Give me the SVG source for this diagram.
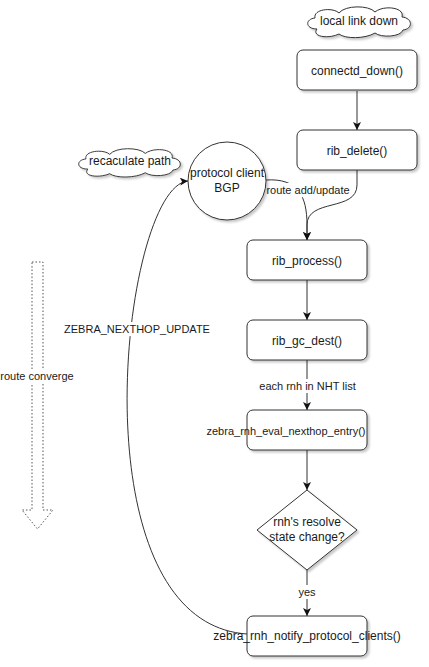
<svg xmlns="http://www.w3.org/2000/svg" width="429" height="667" viewBox="0 0 429 667">
<style>
  .node { fill: #ffffff; stroke: #333333; stroke-width: 1; }
  .t12 { font-family: "Liberation Sans", Arial, sans-serif; font-size: 12px; fill: #1a1a1a; text-anchor: middle; }
  .t11 { font-family: "Liberation Sans", Arial, sans-serif; font-size: 11px; fill: #1a1a1a; text-anchor: middle; }
  .edge { fill: none; stroke: #333333; stroke-width: 1; }
  .lblbg { fill: #ffffff; }
  .sh { filter: url(#shadow); }
</style>
<defs>
  <filter id="shadow" x="-20%" y="-20%" width="150%" height="150%">
    <feDropShadow dx="2" dy="2" stdDeviation="1.2" flood-color="#000000" flood-opacity="0.22"/>
  </filter>
  <marker id="arr" viewBox="0 0 8 8" refX="8" refY="4" markerWidth="8" markerHeight="8" orient="auto" markerUnits="userSpaceOnUse">
    <path d="M0,0 L8,4 L0,8 L2,4 Z" fill="#111111"/>
  </marker>
  <path id="cloud" d="M12,24 C0,24 0,14 10,13 C8,4 28,2 34,8 C40,0 64,0 70,7 C78,0 100,2 97,12 C108,13 108,24 98,25 C96,32 76,33 70,28 C60,34 40,34 34,29 C24,34 6,32 12,24 Z"/>
</defs>
<rect width="429" height="667" fill="#ffffff"/>

<g id="connectors">
  <path class="edge" d="M357,91 L357,130" marker-end="url(#arr)"/>
  <path class="edge" d="M357,170 L357,185 C357,212 307,198 307,225 L307,240" marker-end="url(#arr)"/>
  <path class="edge" d="M266,180 C298,178 307,196 307,225 L307,240" marker-end="url(#arr)"/>
  <path class="edge" d="M307,280 L307,320" marker-end="url(#arr)"/>
  <path class="edge" d="M307,360 L307,410" marker-end="url(#arr)"/>
  <path class="edge" d="M307,450 L307,490" marker-end="url(#arr)"/>
  <path class="edge" d="M307,570 L307,616" marker-end="url(#arr)"/>
  <path class="edge" d="M247,634 C72,622 122,186 188,181" marker-end="url(#arr)"/>
  <g id="lbl-route-add">
    <rect class="lblbg" x="267" y="183" width="82" height="14"/>
    <text class="t11" x="308" y="194">route add/update</text>
  </g>
  <g id="lbl-each-rnh">
    <rect class="lblbg" x="258" y="379" width="99" height="14"/>
    <text class="t11" x="307.5" y="390">each rnh in NHT list</text>
  </g>
  <g id="lbl-yes">
    <rect class="lblbg" x="298" y="585" width="19" height="14"/>
    <text class="t11" x="307" y="596">yes</text>
  </g>
  <g id="lbl-zebra-update">
    <rect class="lblbg" x="63" y="322" width="148" height="14"/>
    <text class="t11" x="137" y="333">ZEBRA_NEXTHOP_UPDATE</text>
  </g>
</g>

<g id="route-converge">
  <polygon points="32,262 43,262 43,510 53,510 37.5,529 22,510 32,510" fill="none" stroke="#555555" stroke-width="1" stroke-dasharray="1.5,2"/>
  <rect class="lblbg" x="0" y="369" width="74" height="14"/>
  <text class="t11" x="37" y="380">route converge</text>
</g>

<g id="cloud-local-link-down">
  <use href="#cloud" class="node sh" transform="translate(305,5)"/>
  <text class="t12" x="359" y="25">local link down</text>
</g>

<g id="cloud-recaculate-path">
  <use href="#cloud" class="node sh" transform="translate(76,147) scale(0.99,0.92)"/>
  <text class="t12" x="130" y="165">recaculate path</text>
</g>

<g id="connectd-down">
  <rect class="node sh" x="297" y="50" width="120" height="40" rx="6"/>
  <text class="t12" x="357" y="75">connectd_down()</text>
</g>

<g id="rib-delete">
  <rect class="node sh" x="297" y="130" width="120" height="40" rx="6"/>
  <text class="t12" x="357" y="155">rib_delete()</text>
</g>

<g id="protocol-client">
  <circle class="node sh" cx="227" cy="181" r="39"/>
  <text class="t12" x="227" y="177">protocol client</text>
  <text class="t12" x="227" y="192">BGP</text>
</g>

<g id="rib-process">
  <rect class="node sh" x="247" y="240" width="120" height="40" rx="6"/>
  <text class="t12" x="307" y="265">rib_process()</text>
</g>

<g id="rib-gc-dest">
  <rect class="node sh" x="247" y="320" width="120" height="40" rx="6"/>
  <text class="t12" x="307" y="345">rib_gc_dest()</text>
</g>

<g id="zebra-rnh-eval">
  <rect class="node sh" x="247" y="410" width="120" height="40" rx="6"/>
  <text class="t11" x="286" y="435">zebra_rnh_eval_nexthop_entry()</text>
</g>

<g id="resolve-change">
  <polygon class="node sh" points="307,490 357,530 307,570 257,530"/>
  <text class="t12" x="307" y="526">rnh's resolve</text>
  <text class="t12" x="307" y="541">state change?</text>
</g>

<g id="zebra-rnh-notify">
  <rect class="node sh" x="247" y="616" width="120" height="40" rx="6"/>
  <text class="t12" x="307" y="640">zebra_rnh_notify_protocol_clients()</text>
</g>
</svg>
